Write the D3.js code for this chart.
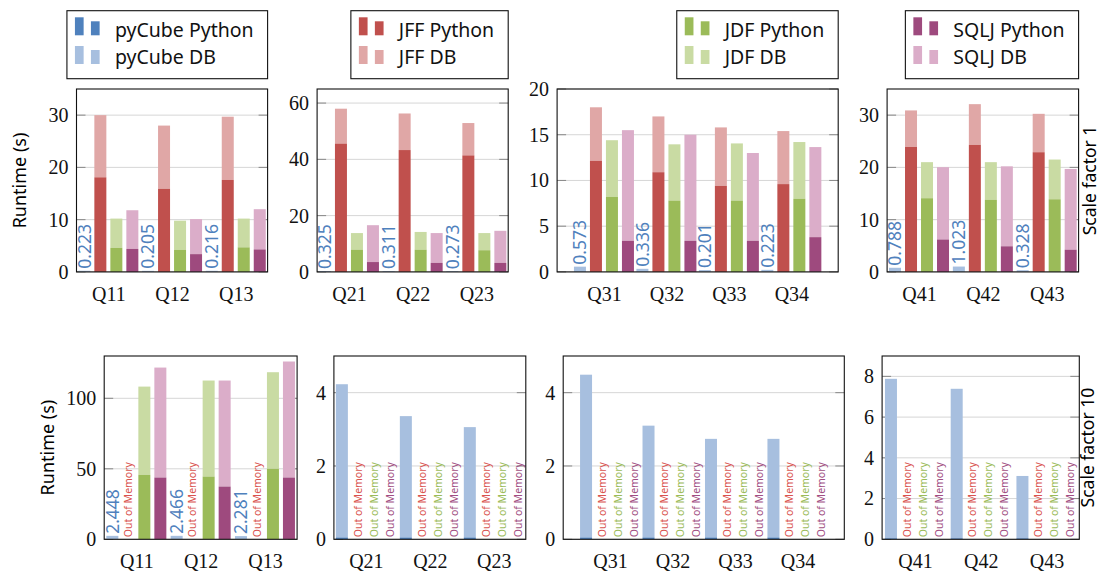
<!DOCTYPE html>
<html>
<head>
<meta charset="utf-8">
<script src="https://cdn.jsdelivr.net/npm/d3@7"></script>
<style>
body { margin: 0; background: #fff; }
</style>
</head>
<body>
<svg id="chart" width="1100" height="579" font-family="'Noto Sans', sans-serif"></svg>
<script>
// query names, one list per panel
var queries = [["Q11", "Q12", "Q13"], ["Q21", "Q22", "Q23"], ["Q31", "Q32", "Q33", "Q34"], ["Q41", "Q42", "Q43"]];

// scale factor 1 runtimes (s): python part and db part, stacked
var pyCubePy1 = [[0.01, 0.01, 0.01], [0.02, 0.02, 0.02], [0.03, 0.02, 0.01, 0.01], [0.04, 0.05, 0.02]];
var pyCubeDb1 = [[0.213, 0.195, 0.206], [0.305, 0.291, 0.253], [0.543, 0.316, 0.191, 0.213], [0.748, 0.973, 0.308]];
var jffPy1 = [[18.1, 15.9, 17.6], [45.6, 43.3, 41.4], [12.15, 10.9, 9.4, 9.6], [23.9, 24.3, 22.9]];
var jffDb1 = [[11.9, 12.1, 12.1], [12.4, 13.0, 11.5], [5.85, 6.1, 6.4, 5.8], [7.0, 7.8, 7.35]];
var jdfPy1 = [[4.6, 4.2, 4.7], [7.9, 7.9, 7.7], [8.2, 7.8, 7.8, 8.0], [14.1, 13.8, 13.9]];
var jdfDb1 = [[5.6, 5.6, 5.5], [5.9, 6.3, 6.1], [6.2, 6.15, 6.25, 6.2], [6.9, 7.2, 7.6]];
var sqljPy1 = [[4.4, 3.4, 4.3], [3.5, 3.2, 3.2], [3.4, 3.4, 3.4, 3.8], [6.2, 4.9, 4.25]];
var sqljDb1 = [[7.4, 6.7, 7.7], [13.1, 10.6, 11.4], [12.1, 11.6, 9.6, 9.85], [13.85, 15.3, 15.45]];

// scale factor 10 runtimes (s), null = out of memory
var pyCubePy10 = [[0.05, 0.05, 0.05], [0.05, 0.05, 0.05], [0.05, 0.05, 0.05, 0.05], [0.05, 0.05, 0.05]];
var pyCubeDb10 = [[2.398, 2.416, 2.231], [4.18, 3.31, 3.01], [4.44, 3.05, 2.69, 2.69], [7.83, 7.34, 3.06]];
var jffPy10 = [[null, null, null], [null, null, null], [null, null, null, null], [null, null, null]];
var jffDb10 = [[null, null, null], [null, null, null], [null, null, null, null], [null, null, null]];
var jdfPy10 = [[45.7, 44.5, 50.0], [null, null, null], [null, null, null, null], [null, null, null]];
var jdfDb10 = [[62.6, 68.1, 68.5], [null, null, null], [null, null, null, null], [null, null, null]];
var sqljPy10 = [[43.8, 37.4, 43.8], [null, null, null], [null, null, null, null], [null, null, null]];
var sqljDb10 = [[78.0, 75.2, 82.3], [null, null, null], [null, null, null, null], [null, null, null]];

// y axes
var yMax1 = [35, 65, 20, 35];
var yTicks1 = [[0, 10, 20, 30], [0, 20, 40, 60], [0, 5, 10, 15, 20], [0, 10, 20, 30]];
var yMax10 = [130, 5, 5, 9];
var yTicks10 = [[0, 50, 100], [0, 2, 4], [0, 2, 4], [0, 2, 4, 6, 8]];
var valueLabels10 = [true, false, false, false];

var systems = [
    {name: "pyCube", dark: "#4f81bd", light: "#a7bfdf", text: "#4f81bd"},
    {name: "JFF", dark: "#c0504d", light: "#e0a7a6", text: "#d9534f"},
    {name: "JDF", dark: "#9bbb59", light: "#c9dba3", text: "#9bbb59"},
    {name: "SQLJ", dark: "#9e4a7e", light: "#dbadc9", text: "#a14e82"}
];

var svg = d3.select("#chart");
svg.append("rect").attr("width", 1100).attr("height", 579).attr("fill", "#fff");

var topBoxes = [[76.5, 267.6], [317.1, 508.2], [557.1, 838.2], [887.1, 1078.6]];
var botBoxes = [[104.2, 297.1], [333.9, 525.8], [563.2, 844.3], [882.1, 1079.3]];
var barOff = [-24, -8, 8, 24], barW = 12;
var serif = "'Liberation Serif', 'DejaVu Serif', serif";
var clipId = 0;

function styleAxis(a) {
    a.select(".domain").remove();
    a.selectAll("text")
        .style("font-family", serif)
        .style("font-size", "20px")
        .attr("fill", "#111");
}

function drawPanel(box, y0, y1, qs, yMax, ticks, py, db, showValue) {
    var n = qs.length, e = 0.25 * (n - 1);
    var x = d3.scaleLinear().domain([-e, n - 1 + e]).range(box);
    var y = d3.scaleLinear().domain([0, yMax]).range([y1, y0]);
    var g = svg.append("g");

    // grid lines + tick marks on both sides
    ticks.forEach(function(t) {
        g.append("line").attr("x1", box[0]).attr("x2", box[1])
            .attr("y1", y(t)).attr("y2", y(t))
            .attr("stroke", "#d6d6d6").attr("stroke-width", 1);
        g.append("line").attr("x1", box[0]).attr("x2", box[0] + 9)
            .attr("y1", y(t)).attr("y2", y(t)).attr("stroke", "#888");
        g.append("line").attr("x1", box[1] - 9).attr("x2", box[1])
            .attr("y1", y(t)).attr("y2", y(t)).attr("stroke", "#888");
    });

    var yAxis = d3.axisLeft(y).tickValues(ticks).tickFormat(d3.format("d")).tickSize(0).tickPadding(8);
    g.append("g").attr("transform", "translate(" + box[0] + ",0)").call(yAxis).call(styleAxis);

    var xAxis = d3.axisBottom(x).tickValues(d3.range(n)).tickFormat(function(i) { return qs[i]; })
        .tickSize(0).tickPadding(15);
    g.append("g").attr("transform", "translate(0," + y1 + ")").call(xAxis).call(styleAxis);

    clipId++;
    svg.append("clipPath").attr("id", "clip" + clipId).append("rect")
        .attr("x", box[0]).attr("y", y0).attr("width", box[1] - box[0]).attr("height", y1 - y0);
    var plot = g.append("g").attr("clip-path", "url(#clip" + clipId + ")");

    systems.forEach(function(s, k) {
        qs.forEach(function(q, i) {
            var cx = x(i) + barOff[k];
            var p = py[k][i], d = db[k][i];
            if (p === null) {
                plot.append("text")
                    .attr("transform", "translate(" + cx + "," + (y1 - 2) + ") rotate(-90)")
                    .attr("dy", "0.35em").attr("font-size", 10.5).attr("fill", s.text)
                    .text("Out of Memory");
                return;
            }
            plot.append("rect").attr("x", cx - barW / 2).attr("width", barW)
                .attr("y", y(p + d)).attr("height", y(p) - y(p + d)).attr("fill", s.light);
            plot.append("rect").attr("x", cx - barW / 2).attr("width", barW)
                .attr("y", y(p)).attr("height", y(0) - y(p)).attr("fill", s.dark);
            if (k === 0 && showValue) {
                plot.append("text")
                    .attr("transform", "translate(" + cx + "," + (y(p + d) - 2) + ") rotate(-90)")
                    .attr("dy", "0.36em").attr("font-size", 17.5).attr("fill", s.text)
                    .text(d3.format(".3f")(p + d));
            }
        });
    });

    g.append("rect").attr("x", box[0]).attr("y", y0)
        .attr("width", box[1] - box[0]).attr("height", y1 - y0)
        .attr("fill", "none").attr("stroke", "#111").attr("stroke-width", 1.1);
}

function series(arrs, p) {
    return arrs.map(function(a) { return a[p]; });
}

for (var p = 0; p < 4; p++) {
    drawPanel(topBoxes[p], 89, 271.9, queries[p], yMax1[p], yTicks1[p],
        series([pyCubePy1, jffPy1, jdfPy1, sqljPy1], p),
        series([pyCubeDb1, jffDb1, jdfDb1, sqljDb1], p), true);
    drawPanel(botBoxes[p], 356, 539.3, queries[p], yMax10[p], yTicks10[p],
        series([pyCubePy10, jffPy10, jdfPy10, sqljPy10], p),
        series([pyCubeDb10, jffDb10, jdfDb10, sqljDb10], p), valueLabels10[p]);
}

// legends, one per system, right-aligned on the top panels
systems.forEach(function(s, k) {
    var lg = svg.append("g");
    var right = topBoxes[k][1];
    var t1 = lg.append("text").attr("y", 36.5).attr("font-size", 19.5).attr("fill", "#111").text(s.name + " Python");
    var t2 = lg.append("text").attr("y", 64).attr("font-size", 19.5).attr("fill", "#111").text(s.name + " DB");
    var tw = Math.max(t1.node().getComputedTextLength(), t2.node().getComputedTextLength());
    var left = right - tw - 48 - 14;
    t1.attr("x", left + 48);
    t2.attr("x", left + 48);
    lg.insert("rect", "text").attr("x", left).attr("y", 10.7).attr("width", right - left).attr("height", 68)
        .attr("fill", "#fff").attr("stroke", "#111").attr("stroke-width", 1.1);
    [[35.3, s.dark], [64, s.light]].forEach(function(r) {
        lg.append("rect").attr("x", left + 8).attr("y", r[0] - 18).attr("width", 8.7).attr("height", 18).attr("fill", r[1]);
        lg.append("rect").attr("x", left + 24).attr("y", r[0] - 14).attr("width", 8.7).attr("height", 14).attr("fill", r[1]);
    });
});

// axis titles
svg.append("text").attr("transform", "translate(20,180.5) rotate(-90)")
    .attr("text-anchor", "middle").attr("dy", "0.35em").attr("font-size", 18).text("Runtime (s)");
svg.append("text").attr("transform", "translate(48,447.6) rotate(-90)")
    .attr("text-anchor", "middle").attr("dy", "0.35em").attr("font-size", 18).text("Runtime (s)");
svg.append("text").attr("transform", "translate(1090,180.5) rotate(-90)")
    .attr("text-anchor", "middle").attr("dy", "0.35em").attr("font-size", 17.5).text("Scale factor 1");
svg.append("text").attr("transform", "translate(1088,447.6) rotate(-90)")
    .attr("text-anchor", "middle").attr("dy", "0.35em").attr("font-size", 17.5).text("Scale factor 10");
</script>
</body>
</html>
